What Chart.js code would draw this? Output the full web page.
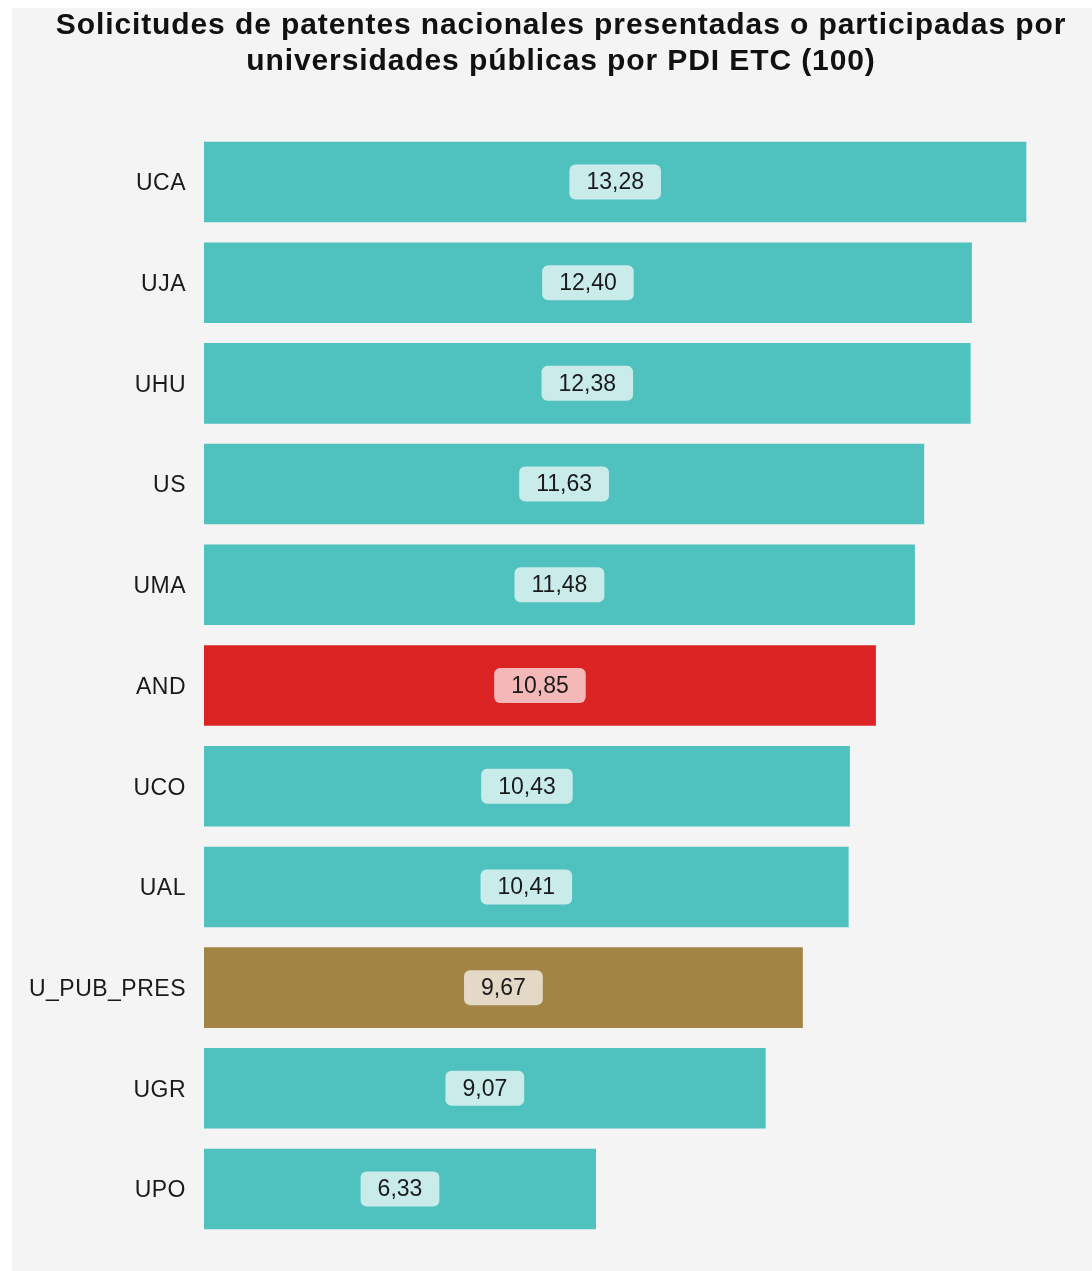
<!DOCTYPE html>
<html>
<head>
<meta charset="utf-8">
<script src="https://cdn.jsdelivr.net/npm/chart.js@4"></script>
<style>
  html, body { margin: 0; padding: 0; background: #ffffff; }
  #wrap { position: absolute; left: 12px; top: 8px; width: 1080px; height: 1263px; background: #f4f4f4; }
</style>
</head>
<body>
<div id="wrap"><canvas id="chart"></canvas></div>
<script>
// data
const titulo = ['Solicitudes de patentes nacionales presentadas o participadas por', 'universidades públicas por PDI ETC (100)'];
const universidades = ['UCA', 'UJA', 'UHU', 'US', 'UMA', 'AND', 'UCO', 'UAL', 'U_PUB_PRES', 'UGR', 'UPO'];
const valores = [13.28, 12.40, 12.38, 11.63, 11.48, 10.85, 10.43, 10.41, 9.67, 9.07, 6.33];
const colorBarra = ['#4fc1be', '#4fc1be', '#4fc1be', '#4fc1be', '#4fc1be', '#dc2323', '#4fc1be', '#4fc1be', '#a28444', '#4fc1be', '#4fc1be'];
const colorEtiqueta = ['#c9eceb', '#c9eceb', '#c9eceb', '#c9eceb', '#c9eceb', '#f5b8b8', '#c9eceb', '#c9eceb', '#e4d9c7', '#c9eceb', '#c9eceb'];

const FUENTE = '"Liberation Sans", Arial, sans-serif';

// title drawn by hand so the letter spacing can be widened like the original
const cabecera = {
    id: 'cabecera',
    beforeDraw(chart) {
        const ctx = chart.ctx;
        ctx.save();
        ctx.letterSpacing = '0.9px';
        ctx.font = 'bold 30px ' + FUENTE;
        ctx.fillStyle = '#111111';
        ctx.textAlign = 'center';
        ctx.textBaseline = 'alphabetic';
        ctx.fillText(titulo[0], 549, 26);
        ctx.fillText(titulo[1], 549, 62);
        ctx.restore();
        // spacing for the category labels drawn next
        ctx.letterSpacing = '0.5px';
    },
    beforeDatasetsDraw(chart) {
        chart.ctx.letterSpacing = '0px';
    }
};

// value boxes in the middle of each bar
const etiquetas = {
    id: 'etiquetas',
    afterDatasetsDraw(chart) {
        const ctx = chart.ctx;
        const meta = chart.getDatasetMeta(0);
        ctx.save();
        ctx.font = '23px ' + FUENTE;
        ctx.textAlign = 'center';
        ctx.textBaseline = 'middle';
        meta.data.forEach((bar, i) => {
            const txt = valores[i].toFixed(2).replace('.', ',');
            const cx = (bar.x + bar.base) / 2;
            const cy = bar.y;
            const w = ctx.measureText(txt).width + 34;
            const h = 35;
            ctx.fillStyle = colorEtiqueta[i];
            ctx.beginPath();
            ctx.roundRect(cx - w / 2, cy - h / 2, w, h, 6);
            ctx.fill();
            ctx.fillStyle = '#1a1a1a';
            ctx.fillText(txt, cx, cy + 1);
        });
        ctx.restore();
    }
};

const ctx = document.getElementById('chart').getContext('2d');
new Chart(ctx, {
    type: 'bar',
    data: {
        labels: universidades,
        datasets: [{
            data: valores,
            backgroundColor: colorBarra,
            barPercentage: 0.8,
            categoryPercentage: 1.0
        }]
    },
    options: {
        indexAxis: 'y',
        responsive: true,
        maintainAspectRatio: false,
        animation: false,
        layout: { padding: { left: 0, right: 0, top: 123.6, bottom: 31.6 } },
        plugins: {
            legend: { display: false },
            tooltip: { enabled: false },
            title: { display: false }
        },
        scales: {
            x: {
                display: false,
                min: 0,
                max: 14.34
            },
            y: {
                grid: { display: false },
                border: { display: false },
                ticks: {
                    color: '#1a1a1a',
                    padding: 10,
                    labelOffset: 2,
                    font: { family: FUENTE, size: 23 }
                },
                afterFit(scale) { scale.width = 192; }
            }
        }
    },
    plugins: [cabecera, etiquetas]
});
</script>
</body>
</html>
